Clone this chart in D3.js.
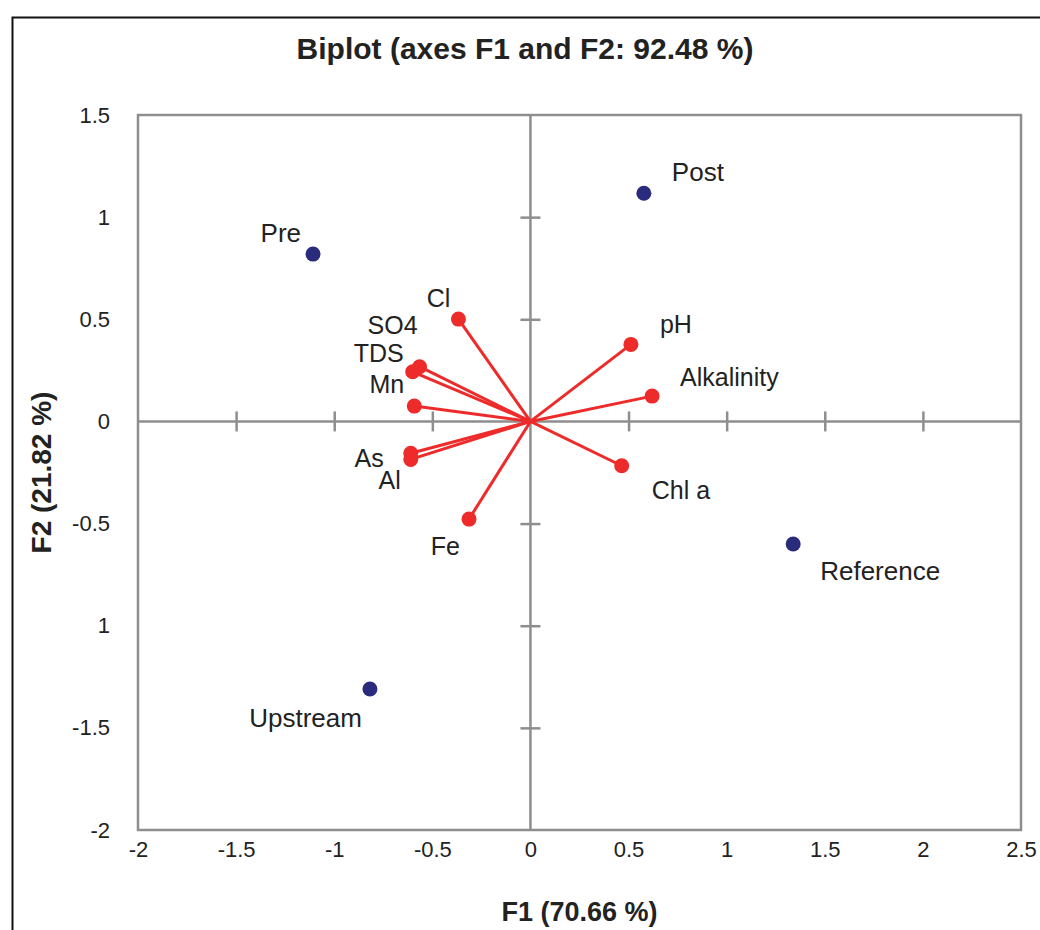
<!DOCTYPE html>
<html><head><meta charset="utf-8">
<script src="https://cdn.jsdelivr.net/npm/d3@7"></script>
<style>body{margin:0;background:#fff}svg{display:block}</style>
</head><body><svg id="c" width="1040" height="930"></svg>
<script>
// ---- data ----
const obsNames = ["Pre", "Post", "Reference", "Upstream"];
const obsF1 = [-1.108, 0.578, 1.339, -0.818];
const obsF2 = [0.819, 1.117, -0.600, -1.310];

const varNames = ["Cl", "SO4", "TDS", "Mn", "As", "Al", "Fe", "pH", "Alkalinity", "Chl a"];
const varF1 = [-0.367, -0.565, -0.600, -0.592, -0.610, -0.610, -0.313, 0.512, 0.620, 0.465];
const varF2 = [0.501, 0.268, 0.243, 0.075, -0.156, -0.186, -0.478, 0.377, 0.124, -0.217];

const xTicks = [-2, -1.5, -1, -0.5, 0, 0.5, 1, 1.5, 2, 2.5];
const xTickLabels = ["-2", "-1.5", "-1", "-0.5", "0", "0.5", "1", "1.5", "2", "2.5"];
const yTicks = [1.5, 1, 0.5, 0, -0.5, -1, -1.5, -2];
const yTickLabels = ["1.5", "1", "0.5", "0", "-0.5", "1", "-1.5", "-2"];

const titleText = "Biplot (axes F1 and F2: 92.48 %)";
const xTitle = "F1 (70.66 %)";
const yTitle = "F2 (21.82 %)";

// ---- label layout (pixel offsets from marker) ----
const obsLabelDx = [-12, 28, 27, -8];
const obsLabelDy = [-12, -12, 36, 38];
const obsLabelAnchor = ["end", "start", "start", "end"];
const varLabelDx = [-8, -2, -9, -10, -27, -10, -9, 29, 28, 30];
const varLabelDy = [-12, -33, -10, -13, 14, 30, 36, -11, -10, 33];
const varLabelAnchor = ["end", "end", "end", "end", "end", "end", "end", "start", "start", "start"];

// ---- drawing ----
(function () {
const svg = d3.select("#c");
const W = 1040, H = 930;
const pL = 138, pR = 1021, pT = 115, pB = 830;
const x = d3.scaleLinear().domain([-2, 2.5]).range([pL, pR]);
const y = d3.scaleLinear().domain([-2, 1.5]).range([pB, pT]);

const gray = "#8e8e8e";
const red = "#ee2b2b";
const navy = "#2b2b7e";
const textCol = "#222";
const fontReg = "'Liberation Sans', Arial, sans-serif";
const fontBold = "'Liberation Sans', Arial, sans-serif";

svg.append("rect").attr("width", W).attr("height", H).attr("fill", "#fff");
// outer frame
svg.append("rect").attr("x", 12.5).attr("y", 17.5).attr("width", 1100).attr("height", 1000)
  .attr("fill", "none").attr("stroke", "#111").attr("stroke-width", 2);

// plot frame
svg.append("rect").attr("x", pL).attr("y", pT).attr("width", pR - pL).attr("height", pB - pT)
  .attr("fill", "none").attr("stroke", gray).attr("stroke-width", 2.5);

// zero axes with ticks via d3 axes
const xAxis = d3.axisBottom(x).tickValues(xTicks.filter(v => v !== 0 && v !== -2 && v !== 2.5))
  .tickSize(20).tickFormat("");
const gx = svg.append("g").attr("transform", `translate(0,${y(0) - 10})`).call(xAxis);
gx.select(".domain").remove();
gx.selectAll(".tick line").attr("stroke", gray).attr("stroke-width", 2.5);
svg.append("line").attr("x1", pL).attr("x2", pR).attr("y1", y(0)).attr("y2", y(0))
  .attr("stroke", gray).attr("stroke-width", 2.5);

const yAxis = d3.axisRight(y).tickValues(yTicks.filter(v => v !== 0 && v !== 1.5 && v !== -2))
  .tickSize(20).tickFormat("");
const gy = svg.append("g").attr("transform", `translate(${x(0) - 10},0)`).call(yAxis);
gy.select(".domain").remove();
gy.selectAll(".tick line").attr("stroke", gray).attr("stroke-width", 2.5);
svg.append("line").attr("x1", x(0)).attr("x2", x(0)).attr("y1", pT).attr("y2", pB)
  .attr("stroke", gray).attr("stroke-width", 2.5);

// tick labels
const xl = d3.axisBottom(x).tickValues(xTicks).tickSize(0).tickPadding(0)
  .tickFormat((d, i) => xTickLabels[i]);
const gxl = svg.append("g").attr("transform", `translate(0,${pB + 11})`).call(xl);
gxl.select(".domain").remove();
gxl.selectAll("text").attr("font-family", fontReg).attr("font-size", 22).attr("fill", textCol);

const yl = d3.axisLeft(y).tickValues(yTicks).tickSize(0).tickPadding(0)
  .tickFormat((d, i) => yTickLabels[i]);
const gyl = svg.append("g").attr("transform", `translate(${pL - 28},0)`).call(yl);
gyl.select(".domain").remove();
gyl.selectAll("text").attr("font-family", fontReg).attr("font-size", 22).attr("fill", textCol);

// titles
svg.append("text").attr("x", 525).attr("y", 59).attr("text-anchor", "middle")
  .attr("font-family", fontBold).attr("font-weight", "bold").attr("font-size", 30)
  .attr("fill", textCol).text(titleText);
svg.append("text").attr("x", (pL + pR) / 2).attr("y", 921).attr("text-anchor", "middle")
  .attr("font-family", fontBold).attr("font-weight", "bold").attr("font-size", 27)
  .attr("fill", textCol).text(xTitle);
svg.append("text").attr("transform", `translate(51,${(pT + pB) / 2}) rotate(-90)`)
  .attr("text-anchor", "middle")
  .attr("font-family", fontBold).attr("font-weight", "bold").attr("font-size", 28)
  .attr("fill", textCol).text(yTitle);

// vectors
const vars = varNames.map((n, i) => ({ n, f1: varF1[i], f2: varF2[i], i }));
svg.append("g").selectAll("line").data(vars).join("line")
  .attr("x1", x(0)).attr("y1", y(0))
  .attr("x2", d => x(d.f1)).attr("y2", d => y(d.f2))
  .attr("stroke", red).attr("stroke-width", 3);
svg.append("g").selectAll("circle").data(vars).join("circle")
  .attr("cx", d => x(d.f1)).attr("cy", d => y(d.f2)).attr("r", 7.5).attr("fill", red);
svg.append("g").selectAll("text").data(vars).join("text")
  .attr("x", d => x(d.f1) + varLabelDx[d.i]).attr("y", d => y(d.f2) + varLabelDy[d.i])
  .attr("text-anchor", d => varLabelAnchor[d.i])
  .attr("font-family", fontReg).attr("font-size", 25).attr("fill", textCol).text(d => d.n);

// observations
const obs = obsNames.map((n, i) => ({ n, f1: obsF1[i], f2: obsF2[i], i }));
svg.append("g").selectAll("circle").data(obs).join("circle")
  .attr("cx", d => x(d.f1)).attr("cy", d => y(d.f2)).attr("r", 7.5).attr("fill", navy);
svg.append("g").selectAll("text").data(obs).join("text")
  .attr("x", d => x(d.f1) + obsLabelDx[d.i]).attr("y", d => y(d.f2) + obsLabelDy[d.i])
  .attr("text-anchor", d => obsLabelAnchor[d.i])
  .attr("font-family", fontReg).attr("font-size", 26).attr("fill", textCol).text(d => d.n);
})();
</script></body></html>
